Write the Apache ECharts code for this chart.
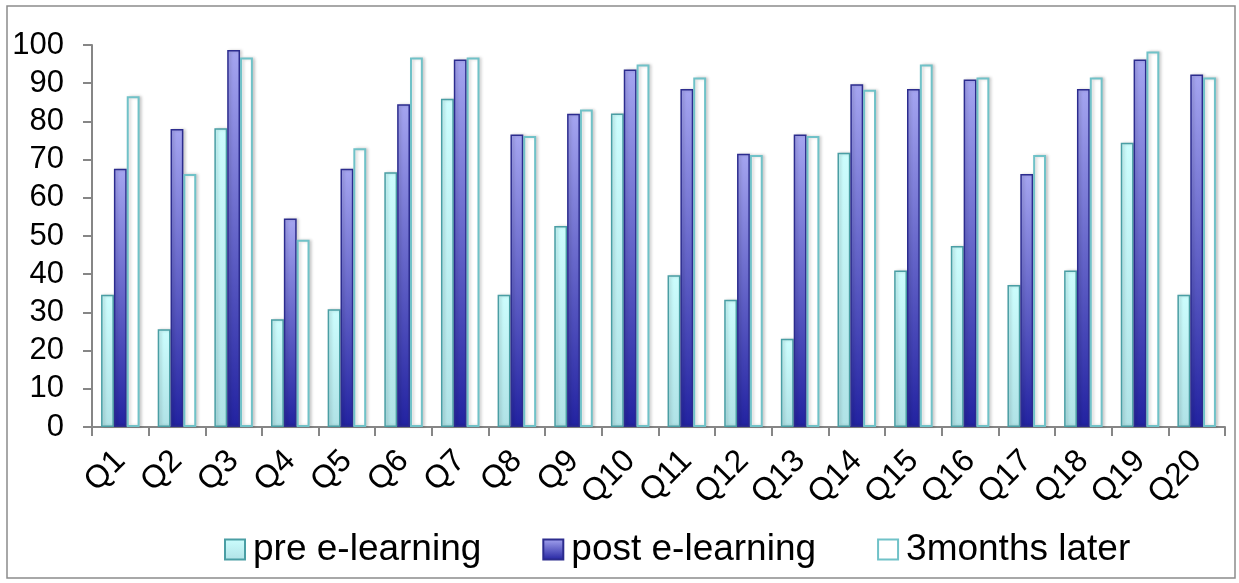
<!DOCTYPE html>
<html>
<head>
<meta charset="utf-8">
<script src="https://cdn.jsdelivr.net/npm/echarts@6/dist/echarts.min.js"></script>
<style>
  html, body { margin: 0; padding: 0; background: #ffffff; }
  #chart { width: 1239px; height: 583px; }
</style>
</head>
<body>
<div id="chart"></div>
<script>
// Question labels along the category axis
const categories = ['Q1','Q2','Q3','Q4','Q5','Q6','Q7','Q8','Q9','Q10',
                    'Q11','Q12','Q13','Q14','Q15','Q16','Q17','Q18','Q19','Q20'];

// Percentage of correct answers per question
const preLearning  = [34.6, 25.6, 78.2, 28.2, 30.8, 66.7, 85.9, 34.6, 52.6, 82.1,
                      39.7, 33.3, 23.1, 71.8, 41.0, 47.4, 37.2, 41.0, 74.4, 34.6];
const postLearning = [67.6, 78.0, 98.7, 54.6, 67.6, 84.5, 96.2, 76.6, 82.0, 93.6,
                      88.5, 71.5, 76.6, 89.7, 88.5, 91.0, 66.2, 88.5, 96.2, 92.3];
const threeMonths  = [86.6, 66.2, 96.7, 49.0, 73.0, 96.7, 96.7, 76.2, 83.1, 94.9,
                      91.5, 71.2, 76.2, 88.3, 94.9, 91.5, 71.2, 91.5, 98.3, 91.5];

const seriesNames = ['pre e-learning', 'post e-learning', '3months later'];

const font = 'Liberation Sans, Arial, sans-serif';
const axisGray = '#868686';

function vGrad(top, bottom) {
  return new echarts.graphic.LinearGradient(0, 0, 0, 1, [
    { offset: 0, color: top },
    { offset: 1, color: bottom }
  ]);
}

const barShadow = {
  shadowBlur: 3,
  shadowOffsetX: 2,
  shadowOffsetY: 0,
  shadowColor: 'rgba(0,0,0,0.18)'
};

const chart = echarts.init(document.getElementById('chart'), null, { renderer: 'canvas' });

chart.setOption({
  animation: false,
  backgroundColor: '#ffffff',
  graphic: [{
    type: 'rect',
    shape: { x: 7, y: 6, width: 1228, height: 572 },
    style: { fill: 'none', stroke: '#8c8c8c', lineWidth: 1.5 },
    silent: true,
    z: -1
  }],
  grid: { left: 92, right: 14, top: 45, bottom: 156, containLabel: false },
  legend: {
    top: 526,
    left: 219,
    itemWidth: 20,
    itemHeight: 20,
    itemGap: 61,
    icon: 'rect',
    data: seriesNames,
    textStyle: {
      fontFamily: font,
      fontSize: 37,
      color: '#000000',
      padding: [0, 0, 0, 3]
    }
  },
  xAxis: {
    type: 'category',
    data: categories,
    axisLine: { lineStyle: { color: axisGray, width: 2 } },
    axisTick: { show: true, length: 9, alignWithLabel: false, lineStyle: { color: axisGray, width: 2 } },
    axisLabel: {
      rotate: 45,
      interval: 0,
      margin: 29,
      fontFamily: font,
      fontSize: 32,
      color: '#000000'
    },
    splitLine: { show: false }
  },
  yAxis: {
    type: 'value',
    min: 0,
    max: 100,
    interval: 10,
    axisLine: { show: true, lineStyle: { color: axisGray, width: 2 } },
    axisTick: { show: true, length: 9, lineStyle: { color: axisGray, width: 2 } },
    axisLabel: {
      margin: 28,
      fontFamily: font,
      fontSize: 31,
      color: '#000000'
    },
    splitLine: { show: false }
  },
  series: [
    {
      name: seriesNames[0],
      type: 'bar',
      data: preLearning,
      barGap: '0%',
      barCategoryGap: '32%',
      itemStyle: Object.assign({
        color: vGrad('#ccfdfd', '#b0e2e6'),
        borderColor: '#4a9ea4',
        borderWidth: 1.5
      }, barShadow)
    },
    {
      name: seriesNames[1],
      type: 'bar',
      data: postLearning,
      barGap: '0%',
      barCategoryGap: '32%',
      itemStyle: Object.assign({
        color: vGrad('#a5a5f0', '#2222a0'),
        borderColor: '#2c2c8e',
        borderWidth: 1.5
      }, barShadow)
    },
    {
      name: seriesNames[2],
      type: 'bar',
      data: threeMonths,
      barGap: '0%',
      barCategoryGap: '32%',
      itemStyle: Object.assign({
        color: '#ffffff',
        borderColor: '#70c2c8',
        borderWidth: 2
      }, barShadow)
    }
  ]
});
</script>
</body>
</html>
